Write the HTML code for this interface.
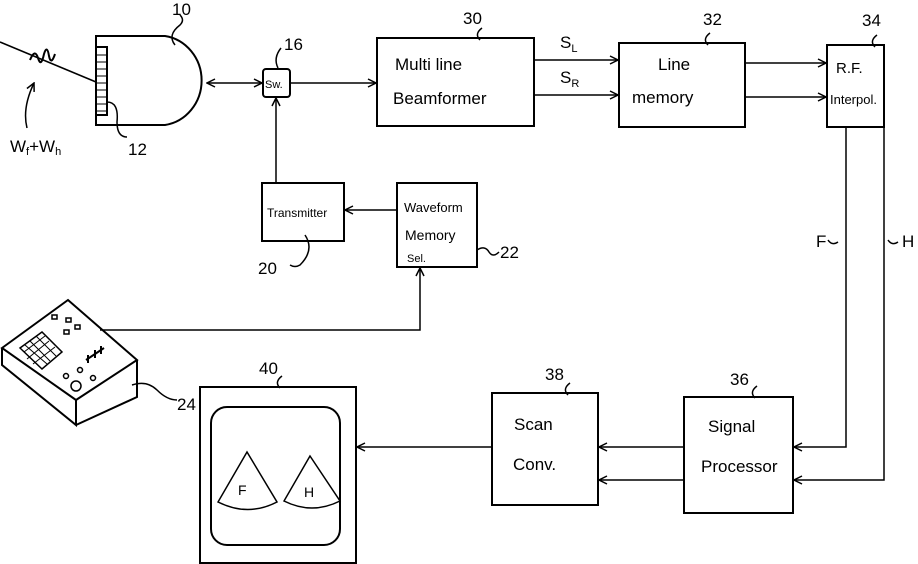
<!DOCTYPE html>
<html><head><style>
html,body{margin:0;padding:0;background:#fff}
svg{display:block}
text{font-family:"Liberation Sans",sans-serif;fill:#000}
</style></head><body>
<svg width="918" height="564" viewBox="0 0 918 564" xmlns="http://www.w3.org/2000/svg">
<defs>
<marker id="a" markerWidth="10" markerHeight="10" refX="9" refY="5" orient="auto-start-reverse" markerUnits="userSpaceOnUse">
<path d="M1,1 L9,5 L1,9" fill="none" stroke="#000" stroke-width="1.5"/></marker>
</defs>
<g fill="none" stroke="#000" stroke-width="2">
<path d="M96,36 H165 A43,45 0 0 1 165,125 H96 Z"/>
<rect x="96" y="47" width="11" height="68"/>
<path d="M96,55 H107 M96,62H107 M96,69H107 M96,76H107 M96,83H107 M96,90H107 M96,97H107 M96,104H107 M96,111H107" stroke-width="1"/>
<path d="M0,42 L96,82" stroke-width="1.5"/>
<path d="M30,60 q5,-12 8,-2 q3,10 6,-4 q3,-10 5,2 q2,10 6,-2" stroke-width="2"/>
<path d="M27,128 q-5,-20 7,-45" stroke-width="1.5" marker-end="url(#a)"/>
<path d="M175,45 q-8,-10 5,-20 q5,-5 0,-10" stroke-width="1.5"/>
<path d="M107,102 q12,0 10,20 q0,15 10,15" stroke-width="1.5"/>
<rect x="263" y="69" width="27" height="28" rx="3"/>
<path d="M207,83 H262" stroke-width="1.5" marker-start="url(#a)" marker-end="url(#a)"/>
<path d="M290,83 H376" stroke-width="1.5" marker-end="url(#a)"/>
<path d="M276,183 V98" stroke-width="1.5" marker-end="url(#a)"/>
<path d="M278,68 q-5,-10 3,-20" stroke-width="1.5"/>
<rect x="377" y="38" width="157" height="88"/>
<path d="M480,40 q-6,-6 2,-12" stroke-width="1.5"/>
<path d="M534,60 H618" stroke-width="1.5" marker-end="url(#a)"/>
<path d="M534,95 H618" stroke-width="1.5" marker-end="url(#a)"/>
<rect x="619" y="43" width="126" height="84"/>
<path d="M708,45 q-6,-6 2,-12" stroke-width="1.5"/>
<path d="M745,63 H826" stroke-width="1.5" marker-end="url(#a)"/>
<path d="M745,97 H826" stroke-width="1.5" marker-end="url(#a)"/>
<rect x="827" y="45" width="57" height="82"/>
<path d="M875,47 q-6,-6 2,-12" stroke-width="1.5"/>
<path d="M846,127 V447 H794" stroke-width="1.5" marker-end="url(#a)"/>
<path d="M884,127 V480 H794" stroke-width="1.5" marker-end="url(#a)"/>
<path d="M828,240 q4,6 10,2" stroke-width="1.5"/>
<path d="M888,240 q4,6 10,2" stroke-width="1.5"/>
<rect x="684" y="397" width="109" height="116"/>
<path d="M755,398 q-6,-6 2,-12" stroke-width="1.5"/>
<path d="M684,447 H599" stroke-width="1.5" marker-end="url(#a)"/>
<path d="M684,480 H599" stroke-width="1.5" marker-end="url(#a)"/>
<rect x="492" y="393" width="106" height="112"/>
<path d="M568,395 q-6,-6 2,-12" stroke-width="1.5"/>
<path d="M492,447 H357" stroke-width="1.5" marker-end="url(#a)"/>
<rect x="200" y="387" width="156" height="176"/>
<rect x="211" y="407" width="129" height="138" rx="16"/>
<path d="M280,388 q-6,-6 2,-12" stroke-width="1.5"/>
<path d="M247,452 L218,502 Q248,517 277,502 Z" stroke-width="1.5"/>
<path d="M310,456 L284,501 Q312,515 340,501 Z" stroke-width="1.5"/>
<rect x="262" y="183" width="82" height="58"/>
<path d="M396,210 H345" stroke-width="1.5" marker-end="url(#a)"/>
<rect x="397" y="183" width="80" height="84"/>
<path d="M305,235 q10,15 -5,30 q-5,3 -10,0" stroke-width="1.5"/>
<path d="M477,250 q8,-5 12,2 q4,6 10,0" stroke-width="1.5"/>
<path d="M100,330 H420 V268" stroke-width="1.5" marker-end="url(#a)"/>
<path d="M2,348 L68,300 L137,360 L76,400 Z" stroke-width="2"/>
<path d="M2,348 V365 L76,425 V400" stroke-width="2"/>
<path d="M76,425 L137,397 V360" stroke-width="2"/>
<path d="M20,348 L42,332 L62,352 L42,369 Z" stroke-width="1.5"/>
<path d="M30,341 L50,361 M36,336 L56,356 M25,345 L47,364 M27,359 L49,341 M33,364 L55,347 M24,352 L45,336" stroke-width="1"/>
<rect x="52" y="315" width="5" height="4" stroke-width="1.5"/>
<rect x="66" y="318" width="5" height="4" stroke-width="1.5"/>
<rect x="64" y="330" width="5" height="4" stroke-width="1.5"/>
<rect x="75" y="325" width="5" height="4" stroke-width="1.5"/>
<circle cx="76" cy="386" r="5" stroke-width="1.5"/>
<circle cx="66" cy="376" r="2.5" stroke-width="1.5"/>
<circle cx="80" cy="370" r="2.5" stroke-width="1.5"/>
<circle cx="93" cy="378" r="2.5" stroke-width="1.5"/>
<path d="M86,360 L104,348 M88,355 V363 M95,350 V358 M101,346 V354" stroke-width="2"/>
<path d="M132,385 q15,-5 25,5 q10,10 20,10" stroke-width="1.5"/>
</g>
<g font-size="17">
<text x="395" y="70">Multi line</text>
<text x="393" y="104">Beamformer</text>
<text x="658" y="70">Line</text>
<text x="632" y="103">memory</text>
<text x="836" y="73" font-size="15">R.F.</text>
<text x="830" y="104" font-size="13">Interpol.</text>
<text x="708" y="432">Signal</text>
<text x="701" y="472">Processor</text>
<text x="514" y="430">Scan</text>
<text x="513" y="470">Conv.</text>
<text x="404" y="212" font-size="13">Waveform</text>
<text x="405" y="240" font-size="14">Memory</text>
<text x="407" y="262" font-size="11">Sel.</text>
<text x="267" y="217" font-size="12">Transmitter</text>
<text x="265" y="88" font-size="11">Sw.</text>
<text x="238" y="495" font-size="14">F</text>
<text x="304" y="497" font-size="14">H</text>
<text x="560" y="48">S<tspan font-size="11" dy="4">L</tspan></text>
<text x="560" y="83">S<tspan font-size="11" dy="4">R</tspan></text>
<text x="816" y="247">F</text>
<text x="902" y="247">H</text>
<text x="172" y="15">10</text>
<text x="284" y="50">16</text>
<text x="463" y="24">30</text>
<text x="703" y="25">32</text>
<text x="862" y="26">34</text>
<text x="730" y="385">36</text>
<text x="545" y="380">38</text>
<text x="259" y="374">40</text>
<text x="500" y="258">22</text>
<text x="258" y="274">20</text>
<text x="128" y="155">12</text>
<text x="177" y="410">24</text>
<text x="10" y="152">W<tspan font-size="11" dy="3">f</tspan><tspan dy="-3">+W</tspan><tspan font-size="11" dy="3">h</tspan></text>
</g>
</svg>
</body></html>
